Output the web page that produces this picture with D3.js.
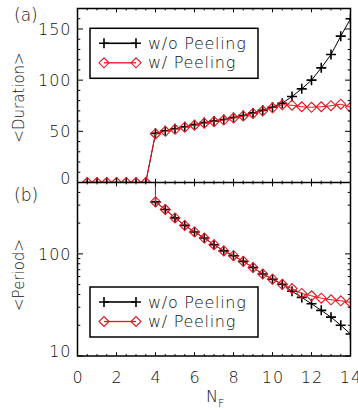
<!DOCTYPE html>
<html><head><meta charset="utf-8">
<script src="https://cdn.jsdelivr.net/npm/d3@7"></script>
<style>
body{margin:0;background:#fff;}
text{font-family:"DejaVu Sans",sans-serif;font-weight:200;fill:#111;}
</style></head>
<body><svg id="c" width="358" height="410"></svg>
<script>
// ---- data ----
const nF = [0.5,1,1.5,2,2.5,3,3.5,4,4.5,5,5.5,6,6.5,7,7.5,8,8.5,9,9.5,10,10.5,11,11.5,12,12.5,13,13.5,14];
const durationNoPeel = [0,0,0,0,0,0,0,48,50.5,52.5,54.5,56.5,58.5,60,61.5,63.5,65.5,68,70.5,73.5,77.5,84,91.5,100,112,125,143,160];
const durationPeel   = [0,0,0,0,0,0,0,47.5,50,52,54,56,58,59.5,61,63,65,67.5,70,73,76,75.5,74,73.5,74,75,76.5,73.5];
// no cycles for N_F < 4: period effectively infinite (off the chart)
const periodNoPeel = [1e30,1e30,1e30,1e30,1e30,1e30,1e30,323,272,225,190,164,143,123,107,96,84.5,73.5,63.5,56.5,50.5,43,37.5,32.5,28,24,20,16.4];
const periodPeel   = [1e30,1e30,1e30,1e30,1e30,1e30,1e30,323,272,225,190,164,143,123,107,96,84.5,73.5,63.5,56.5,50.3,45.7,41,38.8,36.8,35.5,34.7,33.5];
const xTicks = [0,2,4,6,8,10,12,14];
const durTicks = [0,50,100,150];
const perTicks = [10,100];
const seriesNames = ["w/o Peeling","w/ Peeling"];

const RED = "#e8141c";
const svg = d3.select("#c");
const L = 77.5, R = 350.5, T = 8.5, M = 182.5, B = 356;
const x = d3.scaleLinear([0,14],[L,R]);
const yTop = d3.scaleLinear([0,170],[M,T]);
const yBot = d3.scaleLog([10,500],[B,M]);

function clip(id, y0, y1){
  svg.append("clipPath").attr("id",id).append("rect")
    .attr("x",L).attr("y",y0).attr("width",R-L).attr("height",y1-y0);
}
clip("cTop",T,M); clip("cBot",M,B);

function cross(g, cx, cy, s){
  g.append("path").attr("d",`M${cx-s},${cy}H${cx+s}M${cx},${cy-s}V${cy+s}`)
    .attr("stroke","#000").attr("stroke-width",1.6).attr("fill","none");
}
function diamond(g, cx, cy, s){
  g.append("path").attr("d",`M${cx-s},${cy}L${cx},${cy-s}L${cx+s},${cy}L${cx},${cy+s}Z`)
    .attr("stroke",RED).attr("stroke-width",1.1).attr("fill","none");
}

function drawSeries(clipId, y, ys, kind){
  const g = svg.append("g").attr("clip-path",`url(#${clipId})`);
  const line = d3.line().x((d,i)=>x(nF[i])).y(d=>y(d));
  g.append("path").attr("d",line(ys)).attr("fill","none")
    .attr("stroke", kind==="cross" ? "#000" : RED).attr("stroke-width",1);
  ys.forEach((v,i)=>{
    const px = x(nF[i]), py = y(v);
    if (py < -50) return;
    if (kind==="cross") cross(g,px,py,5); else diamond(g,px,py,5);
  });
}

drawSeries("cTop", yTop, durationNoPeel, "cross");
drawSeries("cTop", yTop, durationPeel, "diamond");
drawSeries("cBot", yBot, periodNoPeel, "cross");
drawSeries("cBot", yBot, periodPeel, "diamond");

// ---- axes / ticks ----
const ax = svg.append("g").attr("stroke","#000").attr("fill","none");
function tick(x1,y1,x2,y2,w){ ax.append("line").attr("x1",x1).attr("y1",y1).attr("x2",x2).attr("y2",y2).attr("stroke-width",w||1); }
const xMinor = d3.range(0,14.01,0.5);
[[T,1],[M,-1],[M,1],[B,-1]].forEach(([yy,dir])=>{
  xMinor.forEach(v=>{
    const major = xTicks.includes(v);
    tick(x(v),yy,x(v),yy+dir*(major?3.8:1.9),1);
  });
});
d3.range(0,170.1,10).forEach(v=>{
  const major = durTicks.includes(v);
  const len = major?5.5:2.8;
  tick(L,yTop(v),L+len,yTop(v),1);
  tick(R,yTop(v),R-len,yTop(v),1);
});
const logTicks = [10,20,30,40,50,60,70,80,90,100,200,300,400,500];
logTicks.forEach(v=>{
  const major = perTicks.includes(v);
  const len = major?5.5:2.8;
  tick(L,yBot(v),L+len,yBot(v),1);
  tick(R,yBot(v),R-len,yBot(v),1);
});
ax.append("rect").attr("x",L).attr("y",T).attr("width",R-L).attr("height",B-T).attr("stroke-width",1.5);
ax.append("line").attr("x1",L).attr("x2",R).attr("y1",M).attr("y2",M).attr("stroke-width",1.5);

// ---- labels ----
const lab = svg.append("g").style("font-size","16px").style("letter-spacing","1px");
durTicks.forEach(v=>{
  lab.append("text").attr("x",L-6).attr("y",yTop(v)+(v===0?1:6)).attr("text-anchor","end").text(v);
});
perTicks.forEach(v=>{
  lab.append("text").attr("x",L-6).attr("y",yBot(v)+(v===10?1:6)).attr("text-anchor","end").text(v);
});
xTicks.forEach(v=>{
  lab.append("text").attr("x",x(v)+0.5).attr("y",383).attr("text-anchor","middle").text(v);
});
svg.append("text").attr("x",14).attr("y",21).style("font-size","17px").text("(a)");
svg.append("text").attr("x",14).attr("y",201).style("font-size","17px").text("(b)");
svg.append("text").attr("transform",`translate(23.5,${(yTop(170)+yTop(0))/2+2}) rotate(-90)`)
  .attr("text-anchor","middle").style("font-size","15px").text("<Duration>");
svg.append("text").attr("transform",`translate(23.5,275) rotate(-90)`)
  .attr("text-anchor","middle").style("font-size","15px").text("<Period>");
const nl = svg.append("text").attr("x",206).attr("y",402).style("font-size","16px");
nl.append("tspan").text("N");
nl.append("tspan").attr("dy",5).style("font-size","11px").text("F");

// ---- legends ----
function legend(y0){
  const g = svg.append("g");
  g.append("rect").attr("x",90).attr("y",y0).attr("width",168).attr("height",50)
    .attr("fill","#fff").attr("stroke","#000").attr("stroke-width",1.5);
  const rows = [y0+15,y0+34.5];
  rows.forEach((ry,i)=>{
    g.append("line").attr("x1",104).attr("x2",136).attr("y1",ry).attr("y2",ry)
      .attr("stroke", i===0?"#000":RED).attr("stroke-width",i===0?1.6:1.3);
    [104,136].forEach(px=>{ if(i===0) cross(g,px,ry,5); else diamond(g,px,ry,5); });
    g.append("text").attr("x",148).attr("y",ry+5.5).style("font-size","16px")
      .style("letter-spacing","0.7px").text(seriesNames[i]);
  });
}
legend(28.3);
legend(287);
</script></body></html>
